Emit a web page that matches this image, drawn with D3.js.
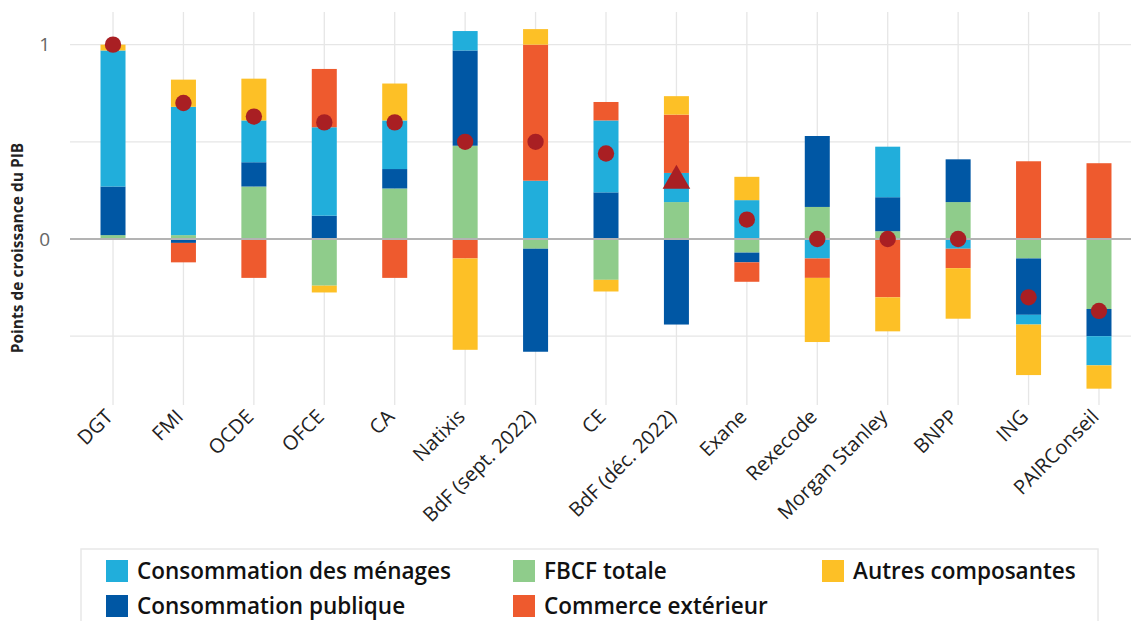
<!DOCTYPE html>
<html><head><meta charset="utf-8">
<script src="https://cdn.jsdelivr.net/npm/d3@7"></script>
<style>
html,body{margin:0;padding:0;background:#fff;}
svg{display:block;font-family:"Open Sans","Noto Sans",sans-serif;}
</style></head>
<body><svg id="c" width="1131" height="621"></svg>
<script>
const categories = ["DGT","FMI","OCDE","OFCE","CA","Natixis","BdF (sept. 2022)","CE","BdF (déc. 2022)","Exane","Rexecode","Morgan Stanley","BNPP","ING","PAIRConseil"];
const fbcf      = [0.02, 0.02, 0.27, -0.24, 0.26, 0.48, -0.05, -0.21, 0.19, -0.07, 0.165, 0.04, 0.19, -0.10, -0.36];
const publique  = [0.25, -0.02, 0.125, 0.12, 0.10, 0.49, -0.53, 0.24, -0.44, -0.05, 0.365, 0.175, 0.22, -0.29, -0.14];
const menages   = [0.70, 0.66, 0.215, 0.455, 0.25, 0.10, 0.30, 0.37, 0.15, 0.20, -0.10, 0.26, -0.05, -0.05, -0.15];
const commerce  = [0, -0.10, -0.20, 0.30, -0.20, -0.10, 0.70, 0.095, 0.30, -0.10, -0.10, -0.30, -0.10, 0.40, 0.39];
const autres    = [0.03, 0.14, 0.215, -0.035, 0.19, -0.47, 0.08, -0.06, 0.095, 0.12, -0.33, -0.175, -0.26, -0.26, -0.12];
const total     = [1.0, 0.70, 0.63, 0.60, 0.60, 0.50, 0.50, 0.44, 0.30, 0.10, 0, 0, 0, -0.30, -0.37];
const markerShape = ["circle","circle","circle","circle","circle","circle","circle","circle","triangle","circle","circle","circle","circle","circle","circle"];
const yTickLabels = [0, 1];
const yGrid = [-0.5, 0, 0.5, 1];

const seriesKeys = ["fbcf","publique","menages","commerce","autres"];
const seriesNames = {menages:"Consommation des ménages", fbcf:"FBCF totale", autres:"Autres composantes", publique:"Consommation publique", commerce:"Commerce extérieur"};
const colors = {menages:"#21AEDB", publique:"#0057A4", fbcf:"#8FCC8B", commerce:"#EE5A2E", autres:"#FDC026"};
const legendOrder = ["menages","fbcf","autres","publique","commerce"];

const table = categories.map((c,i)=>({cat:c, fbcf:fbcf[i], publique:publique[i], menages:menages[i], commerce:commerce[i], autres:autres[i]}));

const svg = d3.select("#c");
const x = d3.scaleBand().domain(categories).range([77.8, 1134.2]).paddingInner(0).paddingOuter(0);
const y = d3.scaleLinear().domain([-0.854, 1.168]).range([405, 12]);
const barW = 25;
const cx = d => x(d) + x.bandwidth()/2;

// grid
svg.append("g").selectAll("line").data(categories).join("line")
  .attr("x1", cx).attr("x2", cx).attr("y1", 12).attr("y2", 405)
  .attr("stroke", "#e6e6e6").attr("stroke-width", 1.3);
svg.append("g").selectAll("line").data(yGrid.filter(v=>v!==0)).join("line")
  .attr("x1", 70).attr("x2", 1131).attr("y1", d=>y(d)).attr("y2", d=>y(d))
  .attr("stroke", "#e6e6e6").attr("stroke-width", 1.3);

// stacked bars
const stack = d3.stack().keys(seriesKeys).offset(d3.stackOffsetDiverging);
const stacked = stack(table);
svg.append("g").selectAll("g").data(stacked).join("g")
  .attr("fill", s => colors[s.key])
  .selectAll("rect").data(s => s).join("rect")
  .attr("x", d => cx(d.data.cat) - barW/2)
  .attr("width", barW)
  .attr("y", d => y(Math.max(d[0], d[1])))
  .attr("height", d => Math.abs(y(d[0]) - y(d[1])));

// zero line
svg.append("line").attr("x1", 70).attr("x2", 1131).attr("y1", y(0)).attr("y2", y(0))
  .attr("stroke", "#b3b3b3").attr("stroke-width", 2);

// y tick labels
svg.append("g").selectAll("text").data(yTickLabels).join("text")
  .attr("x", 50).attr("y", d => y(d)).attr("dy", "0.35em")
  .attr("text-anchor", "end").attr("font-size", 19).attr("fill", "#666")
  .text(d => d);

// y title
svg.append("text").attr("transform", `translate(23,${y(0)+9}) rotate(-90)`)
  .attr("text-anchor", "middle").attr("font-size", 15.5).attr("font-weight", 700).attr("fill", "#222")
  .text("Points de croissance du PIB");

// x labels
svg.append("g").selectAll("text").data(categories).join("text")
  .attr("transform", d => `translate(${cx(d)+1},${418}) rotate(-45)`)
  .attr("text-anchor", "end").attr("font-size", 20).attr("fill", "#222")
  .text(d => d);

// markers
const mk = svg.append("g");
categories.forEach((c,i)=>{
  const sym = markerShape[i] === "triangle" ? d3.symbolTriangle : d3.symbolCircle;
  const size = markerShape[i] === "triangle" ? 330 : 210;
  mk.append("path").attr("d", d3.symbol().type(sym).size(size)())
    .attr("transform", `translate(${cx(c)},${y(total[i])})`)
    .attr("fill", "#A91F23");
});

// legend
const lg = svg.append("g");
lg.append("rect").attr("x", 81).attr("y", 549).attr("width", 1017).attr("height", 90)
  .attr("fill", "#fff").attr("stroke", "#e8e8e8").attr("stroke-width", 1.5);
const colX = [106, 513, 822];
const rowY = [560, 595];
legendOrder.forEach((k,i)=>{
  const col = i % 3, row = Math.floor(i / 3);
  lg.append("rect").attr("x", colX[col]).attr("y", rowY[row]).attr("width", 22).attr("height", 22).attr("fill", colors[k]);
  lg.append("text").attr("x", colX[col] + 31).attr("y", rowY[row] + 11).attr("dy", "0.35em")
    .attr("font-size", 22.5).attr("font-weight", 600).attr("fill", "#111").text(seriesNames[k]);
});
</script></body></html>
